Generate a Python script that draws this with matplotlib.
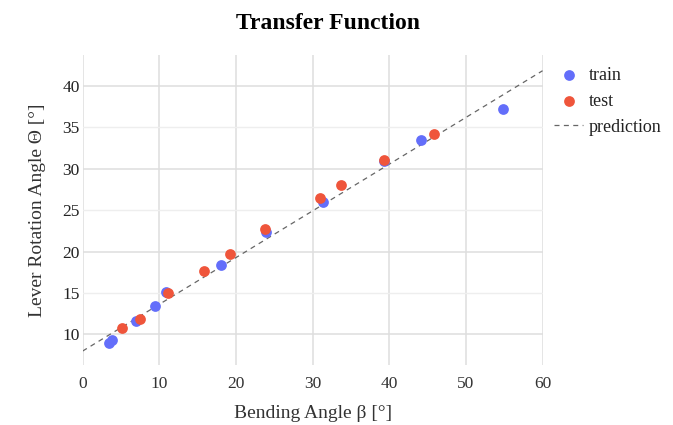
import matplotlib.pyplot as plt
from matplotlib.ticker import MultipleLocator, FormatStrFormatter

plt.rcParams['font.family'] = ['Liberation Serif', 'DejaVu Serif']

# valores
train_x = [3.5, 3.9, 7.0, 9.5, 10.9, 18.1, 23.9, 31.4, 39.3, 44.1, 54.8]
train_y = [9.0, 9.3, 11.6, 13.4, 15.1, 18.4, 22.4, 26.0, 30.9, 33.5, 37.2]

test_x = [5.1, 7.5, 11.1, 15.9, 19.2, 23.8, 31.0, 33.7, 39.3, 45.8]
test_y = [10.8, 11.8, 15.0, 17.7, 19.7, 22.7, 26.5, 28.1, 31.1, 34.2]

pred_x = [0, 60]
pred_y = [7.98, 41.85]

fig = plt.figure(figsize=(6.73, 4.25), dpi=100)
ax = fig.add_axes([0.1227, 0.1412, 0.6835, 0.7294])

ax.plot(pred_x, pred_y, color='#666666', lw=0.9, ls=(0, (4, 3.5)), label='prediction', zorder=2)
ax.scatter(train_x, train_y, s=60, color='#636efa', label='train', zorder=3, linewidths=0)
ax.scatter(test_x, test_y, s=60, color='#ef553b', label='test', zorder=4, linewidths=0)

ax.set_xlim(0, 60)
ax.set_ylim(6.3, 43.75)
ax.xaxis.set_major_locator(MultipleLocator(10))
ax.yaxis.set_major_locator(MultipleLocator(10))
ax.yaxis.set_minor_locator(MultipleLocator(5))
ax.yaxis.set_minor_formatter(FormatStrFormatter('%d'))
ax.grid(True, which='major', color='#dedede', lw=1.1, zorder=0)
ax.grid(True, which='minor', axis='y', color='#eeeeee', lw=1.0, zorder=0)
ax.set_axisbelow(True)
for s in ax.spines.values():
    s.set_visible(False)
ax.tick_params(which='both', length=0, labelsize=12.5, colors='#333333')
ax.tick_params(axis='x', pad=8)
ax.tick_params(axis='y', which='both', pad=2, labelcolor='#222222')

ax.set_xlabel('Bending Angle β [°]', fontsize=14, color='#333333', labelpad=9)
ax.set_ylabel('Lever Rotation Angle Θ [°]', fontsize=14, color='#333333', labelpad=12)
fig.text(0.487, 0.945, 'Transfer Function', ha='center', va='center',
         fontsize=17, fontweight='bold', color='black')

handles, labels = ax.get_legend_handles_labels()
order = [1, 2, 0]
ax.legend([handles[i] for i in order], [labels[i] for i in order],
          loc='upper left', bbox_to_anchor=(0.99, 1.015), frameon=False,
          fontsize=13, handlelength=1.6, handletextpad=0.3, labelspacing=0.5,
          labelcolor='#222222')

fig.savefig('out.png', dpi=100)
